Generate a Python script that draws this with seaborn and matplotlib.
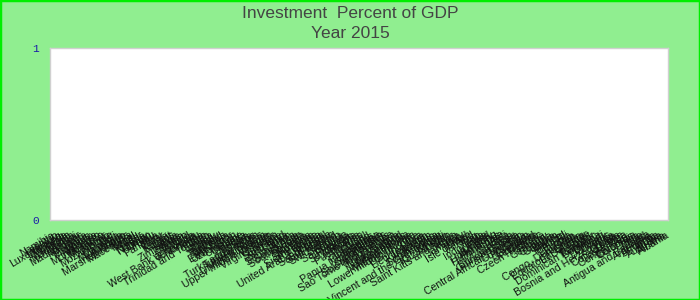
import numpy as np
import pandas as pd
import matplotlib
matplotlib.use("Agg")
import matplotlib.pyplot as plt
from matplotlib.patches import Rectangle
import seaborn as sns

title_line1 = "Investment  Percent of GDP"
title_line2 = "Year 2015"
y_ticks = [0, 1]

countries = [
    "Namibia", "Lesotho", "Luxembourg", "Lithuania", "Liberia", "Mongolia", "Mauritania",
    "Malawi", "Madagascar", "Maldives", "Malta", "Mauritius", "Mexico", "Moldova",
    "Montenegro", "Morocco", "Myanmar", "Macao", "Mozambique", "Mali", "Malaysia",
    "Micronesia", "Monaco", "Marshall Islands", "Macedonia", "Nepal", "Nauru", "Niger",
    "Nigeria", "Norway", "Oman", "Palau", "Panama", "Peru", "Qatar", "Kenya", "Kuwait",
    "Laos", "Latvia", "Zimbabwe", "Zambia", "Yemen", "World", "West Bank and Gaza",
    "Venezuela", "Vanuatu", "Tonga", "Trinidad and Tobago", "Togo", "Tunisia", "Tuvalu",
    "Turkey", "Thailand", "Tanzania", "Tajikistan", "East Timor", "Uzbekistan", "Uruguay",
    "Ukraine", "Uganda", "Taiwan", "Syria", "Turks and Caicos", "Turkmenistan",
    "United States", "United Kingdom", "Upper middle income", "Vietnam", "Virgin Islands",
    "Sudan", "Suriname", "Swaziland", "Sri Lanka", "Spain", "South Africa", "South Asia",
    "South Sudan", "Somalia", "Slovenia", "Slovakia", "Singapore", "Sierra Leone", "Serbia",
    "United Arab Emirates", "Senegal", "Saudi Arabia", "San Marino", "Switzerland",
    "Sweden", "Samoa", "Saint Lucia", "Rwanda", "Seychelles", "Russia", "Romania",
    "Puerto Rico", "Portugal", "Poland", "Philippines", "Paraguay", "Papua New Guinea",
    "Pakistan", "Small states", "Solomon Islands", "Sao Tome and Principe", "North Korea",
    "Nicaragua", "New Zealand", "Netherlands", "New Caledonia", "Middle income",
    "Lower middle income", "Low income", "Libya", "Liechtenstein", "Lebanon", "Kyrgyzstan",
    "Kosovo", "South Korea", "Saint Vincent and the Grenadines", "Kiribati", "Kazakhstan",
    "Jordan", "Saint Kitts and Nevis", "Japan", "Jamaica", "Italy", "Israel", "Isle of Man",
    "Ireland", "Iraq", "Iran", "Indonesia", "India", "Iceland", "Hungary", "Hong Kong",
    "Honduras", "High income", "Haiti", "Guyana", "Burkina Faso", "Guinea-Bissau", "Guinea",
    "Central African Republic", "Guatemala", "Guam", "Grenada", "Greenland", "Greece",
    "Czech Republic", "Ghana", "Germany", "Georgia", "Gambia", "Gabon", "France", "Finland",
    "Fiji", "Ethiopia", "Estonia", "Congo, Dem. Rep.", "Eritrea", "Equatorial Guinea",
    "El Salvador", "Egypt", "Ecuador", "Dominican Republic", "Dominica", "Djibouti",
    "Denmark", "Cyprus", "Bosnia and Herzegovina", "Cuba", "Croatia", "Cote d'Ivoire",
    "Costa Rica", "Congo, Rep.", "Comoros", "Colombia", "China", "Chile", "Chad",
    "Antigua and Barbuda", "Argentina", "Armenia", "Aruba", "Australia", "Austria", "Albania",
]
# Year 2015 values are missing for every country in the reference (empty plot)
investment_pct = [np.nan] * len(countries)

assert len(set(countries)) == len(countries)

df = pd.DataFrame({"country": countries, "investment": investment_pct})

W, H = 700, 300
fig = plt.figure(figsize=(7, 3), dpi=100)
fig.patch.set_facecolor("#90EE90")
fig.patches.append(Rectangle((0, 0), 1, 1, transform=fig.transFigure, fill=False,
                             edgecolor="#00ee00", linewidth=2.5, zorder=10))

ax = fig.add_axes([50 / W, 1 - 220 / H, (668 - 50) / W, (220 - 48) / H])
ax.set_facecolor("white")

sns.barplot(data=df, x="country", y="investment", order=countries, ax=ax,
            color="#4472c4", errorbar=None)

n = len(countries)
ax.set_xlim(-0.5, n - 0.5)
ax.set_ylim(0, 1)
ax.set_xticks(range(n))
ax.set_xticklabels(countries, rotation=31, ha="right", rotation_mode="anchor",
                   fontsize=7.6, color="#111111", family=["Liberation Sans", "DejaVu Sans"])
ax.set_yticks(y_ticks)
ax.set_yticklabels([str(v) for v in y_ticks], color="#1a1aa8", fontsize=8,
                   family=["Liberation Mono", "DejaVu Sans Mono"])
ax.tick_params(axis="x", length=0, pad=7)
ax.tick_params(axis="y", length=0, pad=8)
ax.set_xlabel("")
ax.set_ylabel("")
ax.grid(False)
for s in ax.spines.values():
    s.set_color("#d0d0d0")
    s.set_linewidth(1)

fig.text(0.5, 1 - 13 / H, title_line1, ha="center", va="center", fontsize=12.5,
         color="#444444", family=["Liberation Sans Narrow", "Liberation Sans", "DejaVu Sans"])
fig.text(0.5, 1 - 33 / H, title_line2, ha="center", va="center", fontsize=12.5,
         color="#444444", family=["Liberation Sans Narrow", "Liberation Sans", "DejaVu Sans"])

fig.savefig("out.png", dpi=100, facecolor=fig.get_facecolor())
